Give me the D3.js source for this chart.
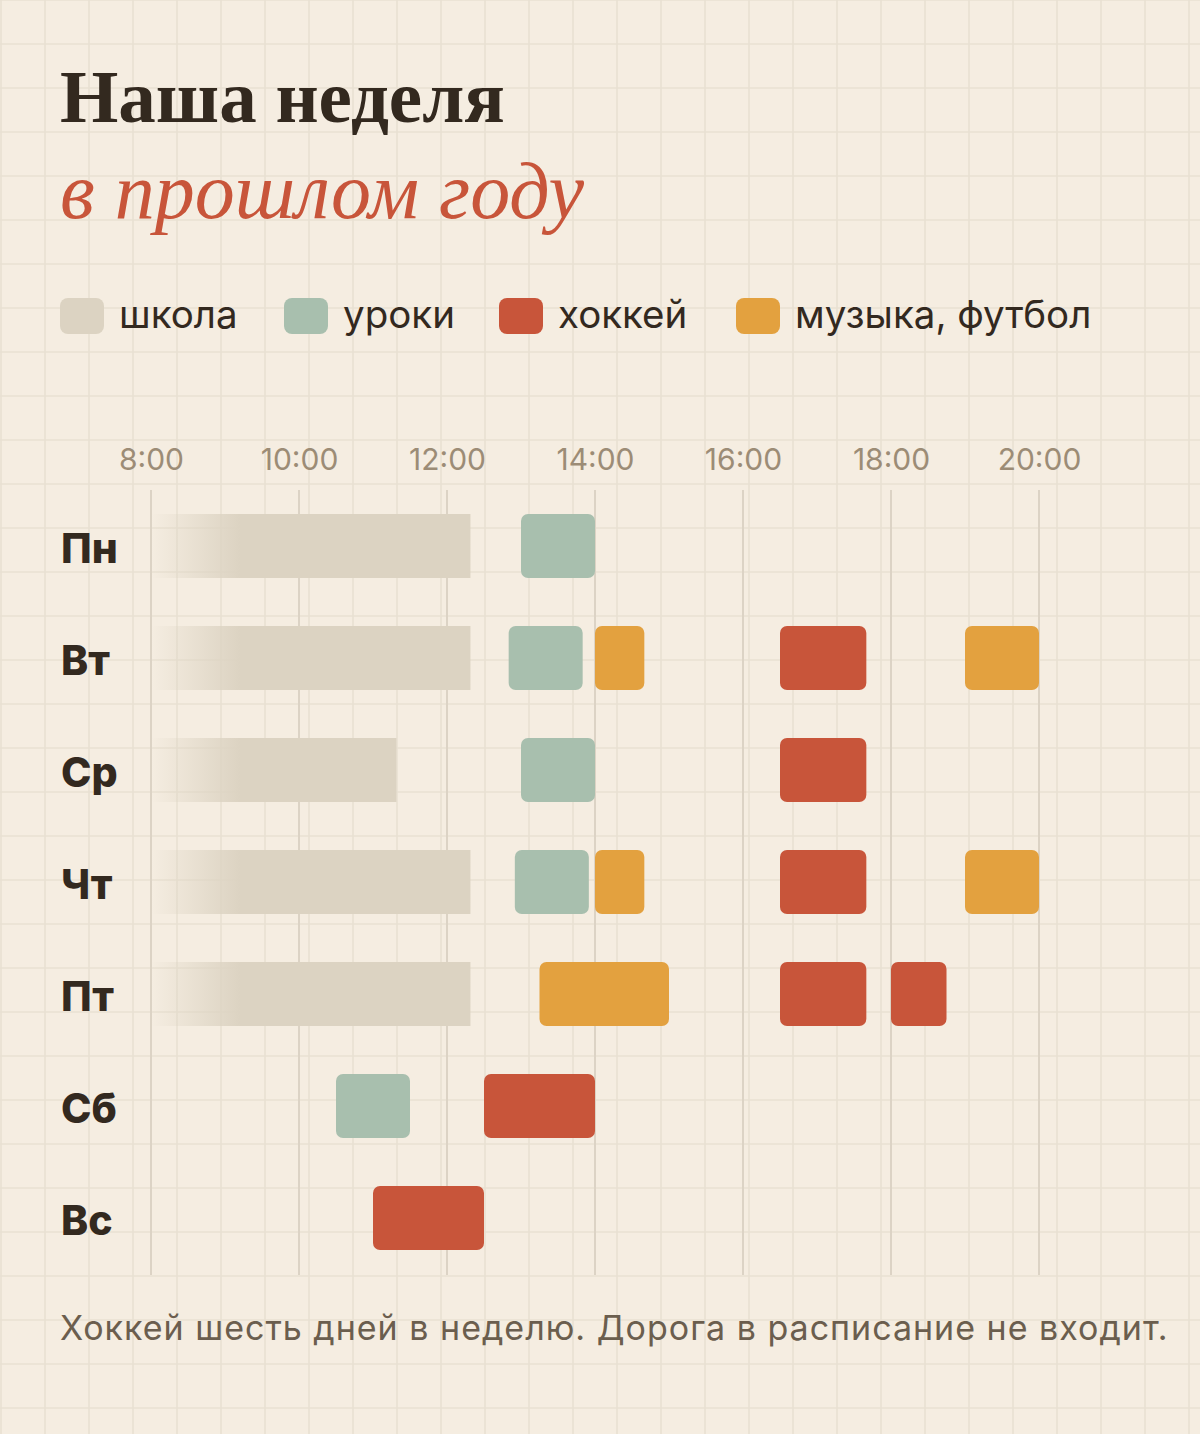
<!DOCTYPE html>
<html>
<head>
<meta charset="utf-8">
<script src="https://cdn.jsdelivr.net/npm/d3@7"></script>
<style>
  html, body { margin: 0; padding: 0; background: #f5ede1; }
  svg { display: block; }
</style>
</head>
<body>
<svg id="chart" width="1200" height="1434"></svg>
<script>
// ---------- data ----------
const days = ["Пн", "Вт", "Ср", "Чт", "Пт", "Сб", "Вс"];
const activityNames = ["школа", "уроки", "хоккей", "музыка, футбол"];
const activityColors = ["#dcd3c2", "#a8bfae", "#c8553a", "#e3a13f"];
const tickHours = [8, 10, 12, 14, 16, 18, 20];

// [day, start, end]
const school = [
  ["Пн", "8:00", "12:19"],
  ["Вт", "8:00", "12:19"],
  ["Ср", "8:00", "11:19"],
  ["Чт", "8:00", "12:19"],
  ["Пт", "8:00", "12:19"]
];
const lessons = [
  ["Пн", "13:00", "14:00"],
  ["Вт", "12:50", "13:50"],
  ["Ср", "13:00", "14:00"],
  ["Чт", "12:55", "13:55"],
  ["Сб", "10:30", "11:30"]
];
const hockey = [
  ["Вт", "16:30", "17:40"],
  ["Ср", "16:30", "17:40"],
  ["Чт", "16:30", "17:40"],
  ["Пт", "16:30", "17:40"],
  ["Пт", "18:00", "18:45"],
  ["Сб", "12:30", "14:00"],
  ["Вс", "11:00", "12:30"]
];
const music = [
  ["Вт", "14:00", "14:40"],
  ["Вт", "19:00", "20:00"],
  ["Чт", "14:00", "14:40"],
  ["Чт", "19:00", "20:00"],
  ["Пт", "13:15", "15:00"]
];

const titleLine1 = "Наша неделя";
const titleLine2 = "в прошлом году";
const footnote = "Хоккей шесть дней в неделю. Дорога в расписание не входит.";

// ---------- helpers ----------
const toHours = s => { const [h, m] = s.split(":").map(Number); return h + m / 60; };

const W = 1200, H = 1434;
const svg = d3.select("#chart");

// background
svg.append("rect").attr("width", W).attr("height", H).attr("fill", "#f5ede1");
const bgGrid = svg.append("g").attr("stroke", "#e9e0d2").attr("stroke-width", 1.6);
bgGrid.selectAll("line.v").data(d3.range(1, W, 44)).join("line")
  .attr("x1", d => d).attr("x2", d => d).attr("y1", 0).attr("y2", H);
bgGrid.selectAll("line.h").data(d3.range(0, H, 44)).join("line")
  .attr("y1", d => d).attr("y2", d => d).attr("x1", 0).attr("x2", W);

// scales
const x = d3.scaleLinear().domain([8, 20]).range([151, 1039]);
const y = d3.scaleBand().domain(days).range([490, 1274])
  .paddingInner(48 / 112).paddingOuter(24 / 112);

// title
svg.append("text").attr("x", 60).attr("y", 122)
  .attr("font-family", "'Liberation Serif', 'DejaVu Serif', serif")
  .attr("font-weight", 700).attr("font-size", 75).attr("fill", "#33291f")
  .text(titleLine1);
svg.append("text").attr("x", 60).attr("y", 218)
  .attr("font-family", "'Liberation Serif', 'DejaVu Serif', serif")
  .attr("font-style", "italic").attr("font-size", 80).attr("fill", "#c8553a")
  .text(titleLine2);

// legend
const legendX = [60, 284, 499, 736];
const legend = svg.append("g");
const li = legend.selectAll("g").data(activityNames).join("g")
  .attr("transform", (d, i) => `translate(${legendX[i]},298)`);
li.append("rect").attr("width", 44).attr("height", 36).attr("rx", 8)
  .attr("fill", (d, i) => activityColors[i]);
li.append("text").attr("x", 59).attr("y", 30)
  .attr("font-family", "Inter, 'Noto Sans', sans-serif")
  .attr("font-size", 38.5).attr("fill", "#33291f")
  .text(d => d);

// hour gridlines
svg.append("g").selectAll("line").data(tickHours).join("line")
  .attr("x1", d => x(d)).attr("x2", d => x(d))
  .attr("y1", 490).attr("y2", 1275)
  .attr("stroke", "#dcd3c5").attr("stroke-width", 2);

// axis
const axis = svg.append("g").attr("transform", "translate(0,470)")
  .call(d3.axisTop(x).tickValues(tickHours).tickSize(0).tickPadding(0)
    .tickFormat(d => `${d}:00`));
axis.select(".domain").remove();
axis.selectAll("text")
  .attr("font-family", "Inter, 'Noto Sans', sans-serif")
  .attr("font-size", 30).attr("fill", "#9c8c76");

// day labels
svg.append("g").selectAll("text").data(days).join("text")
  .attr("x", 61).attr("y", d => y(d) + y.bandwidth() / 2 + 17)
  .attr("font-family", "Inter, 'Noto Sans', sans-serif")
  .attr("font-weight", 800).attr("font-size", 41).attr("fill", "#33291f")
  .text(d => d);

// gradient for school fade
const defs = svg.append("defs");
const grad = defs.append("linearGradient").attr("id", "schoolFade")
  .attr("gradientUnits", "userSpaceOnUse")
  .attr("x1", x(8)).attr("x2", x(8 + 1.2)).attr("y1", 0).attr("y2", 0);
grad.append("stop").attr("offset", 0).attr("stop-color", activityColors[0]).attr("stop-opacity", 0);
grad.append("stop").attr("offset", 1).attr("stop-color", activityColors[0]).attr("stop-opacity", 1);

// bars
svg.append("g").selectAll("rect").data(school).join("rect")
  .attr("x", d => x(toHours(d[1])))
  .attr("width", d => x(toHours(d[2])) - x(toHours(d[1])))
  .attr("y", d => y(d[0])).attr("height", y.bandwidth())
  .attr("fill", "url(#schoolFade)");

const others = [[lessons, 1], [hockey, 2], [music, 3]];
others.forEach(([arr, ci]) => {
  svg.append("g").selectAll("rect").data(arr).join("rect")
    .attr("x", d => x(toHours(d[1])))
    .attr("width", d => x(toHours(d[2])) - x(toHours(d[1])))
    .attr("y", d => y(d[0])).attr("height", y.bandwidth())
    .attr("rx", 7)
    .attr("fill", activityColors[ci]);
});

// footnote
svg.append("text").attr("x", 60).attr("y", 1340)
  .attr("font-family", "Inter, 'Noto Sans', sans-serif")
  .attr("font-size", 34).attr("letter-spacing", 1).attr("fill", "#6b5e4e")
  .text(footnote);
</script>
</body>
</html>
